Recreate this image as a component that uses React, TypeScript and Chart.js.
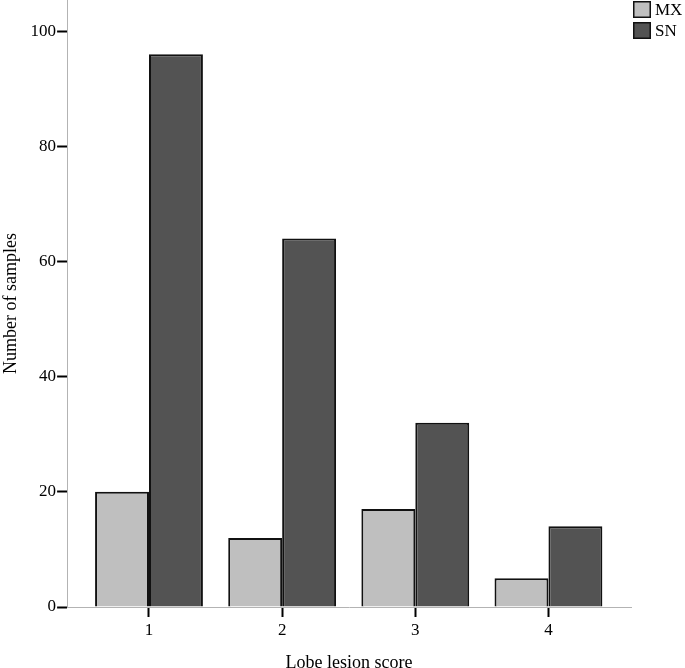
import React, { useEffect, useRef } from "react";
import { Chart, registerables } from "chart.js";

Chart.register(...registerables);

const categories = [1, 2, 3, 4];
const mxValues = [20, 12, 17, 5];
const snValues = [96, 64, 32, 14];
const seriesNames = ["MX", "SN"];
const seriesColors = ["#bfbfbf", "#535353"];
const yTicks = [0, 20, 40, 60, 80, 100];

const FONT = "'Liberation Serif', 'Times New Roman', serif";

const legendPlugin = {
  id: "customLegend",
  afterDraw(chart: any) {
    const ctx = chart.ctx;
    ctx.save();
    chart.data.datasets.forEach((ds: any, i: number) => {
      const x = 633;
      const y = 1 + i * 21;
      ctx.fillStyle = ds.backgroundColor;
      ctx.fillRect(x, y, 18, 17);
      ctx.strokeStyle = "#111";
      ctx.lineWidth = 1.5;
      ctx.strokeRect(x + 0.75, y + 0.75, 16.5, 15.5);
      ctx.fillStyle = "#000";
      ctx.font = `17px ${FONT}`;
      ctx.textBaseline = "middle";
      ctx.textAlign = "left";
      ctx.fillText(ds.label, x + 22, y + 9.5);
    });
    ctx.restore();
  },
};

export default function App() {
  const ref = useRef<HTMLCanvasElement | null>(null);

  useEffect(() => {
    document.body.style.margin = "0";
    const ctx = ref.current!;
    const chart = new Chart(ctx, {
      type: "bar",
      data: {
        datasets: [
          {
            label: seriesNames[0],
            data: categories.map((c, i) => ({ x: c, y: mxValues[i] })),
            backgroundColor: seriesColors[0],
            borderColor: "#111",
            borderWidth: 2,
          },
          {
            label: seriesNames[1],
            data: categories.map((c, i) => ({ x: c, y: snValues[i] })),
            backgroundColor: seriesColors[1],
            borderColor: "#111",
            borderWidth: 2,
          },
        ],
      },
      plugins: [legendPlugin],
      options: {
        animation: false,
        responsive: false,
        maintainAspectRatio: false,
        layout: { padding: { top: 0, right: 54, bottom: 0, left: 0 } },
        categoryPercentage: 0.81,
        barPercentage: 1,
        plugins: {
          tooltip: { enabled: false },
          legend: { display: false },
        },
        scales: {
          x: {
            type: "linear",
            min: 0.385,
            max: 4.62,
            offset: false,
            grid: {
              offset: false,
              drawOnChartArea: false,
              drawTicks: true,
              tickLength: 10,
              tickColor: "#000",
              tickWidth: 2,
            },
            border: { display: true, color: "#b3b3b3", width: 1 },
            ticks: {
              stepSize: 1,
              includeBounds: false,
              color: "#000",
              padding: 3,
              font: { family: FONT, size: 17 },
              callback: (v: any) => String(v),
            },
            title: {
              display: true,
              text: "Lobe lesion score",
              color: "#000",
              font: { family: FONT, size: 18 },
              padding: { top: 9, bottom: -6 },
            },
          },
          y: {
            type: "linear",
            min: 0,
            max: 105.4,
            grid: {
              drawOnChartArea: false,
              drawTicks: true,
              tickLength: 10,
              tickColor: "#000",
              tickWidth: 2,
            },
            border: { display: true, color: "#b3b3b3", width: 1 },
            afterBuildTicks: (scale: any) => {
              scale.ticks = yTicks.map((v) => ({ value: v }));
            },
            afterFit: (scale: any) => {
              scale.paddingTop = 0;
            },
            ticks: {
              color: "#000",
              padding: 1,
              font: { family: FONT, size: 17 },
            },
            title: {
              display: true,
              text: "Number of samples",
              color: "#000",
              font: { family: FONT, size: 18 },
              padding: { top: 0, bottom: 8 },
            },
          },
        },
      },
    });
    return () => chart.destroy();
  }, []);

  return <canvas ref={ref} width={685} height={668} style={{ display: "block" }} />;
}
